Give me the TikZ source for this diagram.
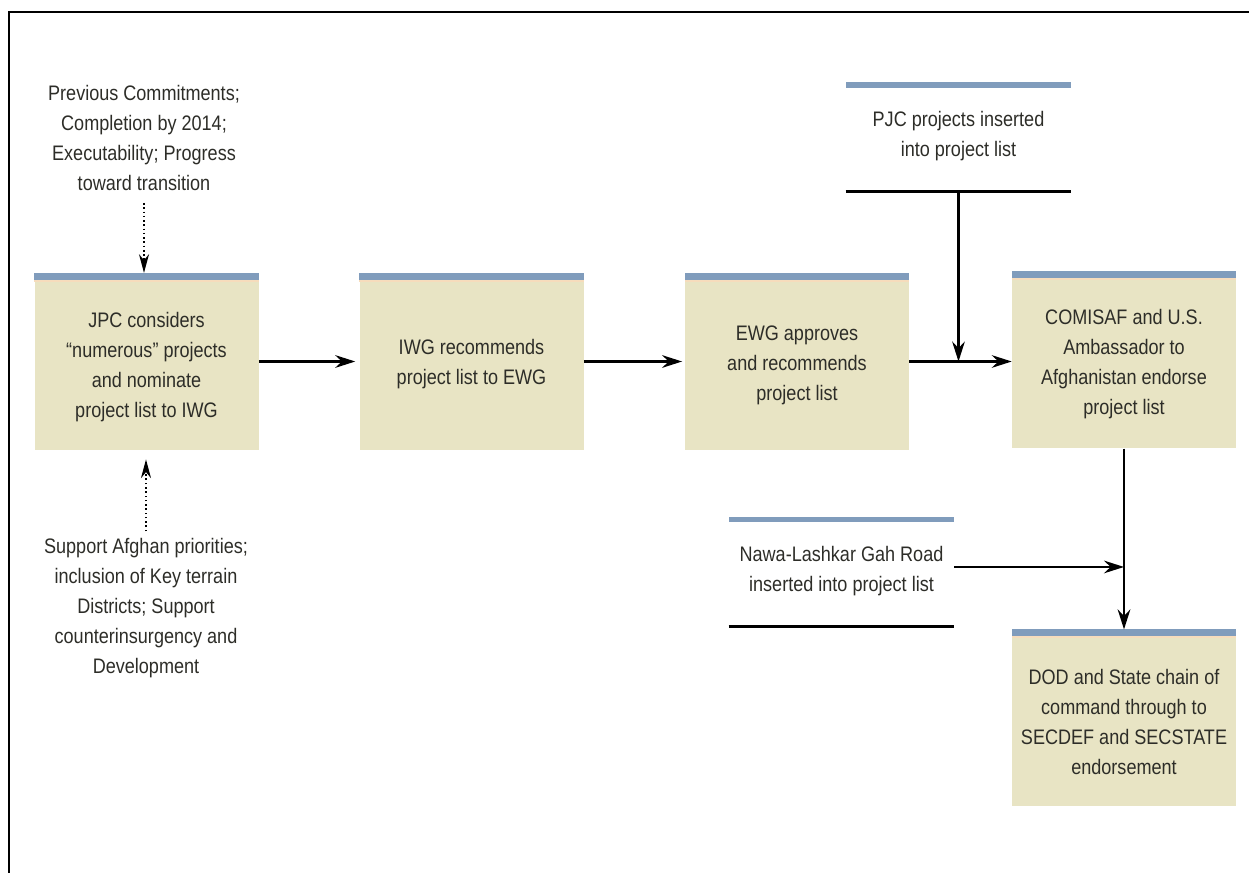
\documentclass[tikz,border=0pt]{standalone}
\usepackage{fontspec}
\setmainfont{Liberation Sans}[FakeStretch=0.86]
\usetikzlibrary{arrows.meta}
\definecolor{boxfill}{RGB}{232,228,196}
\definecolor{barblue}{RGB}{128,156,188}
\definecolor{peach}{RGB}{246,220,188}
\definecolor{txt}{RGB}{45,45,40}
\newcommand\stagebar[1]{%
  \fill[barblue] (#1.north west) rectangle ([yshift=-5pt]#1.north east);
  \fill[peach] ([yshift=-5pt]#1.north west) rectangle ([yshift=-6.5pt]#1.north east);}
\begin{document}
\begin{tikzpicture}[x=0.75pt,y=-0.75pt,
  every node/.style={font=\fontsize{15.75}{22.5}\selectfont, text=txt, align=center, inner sep=0pt},
  stagebox/.style={fill=boxfill, minimum width=168pt, minimum height=132.5pt},
  insertbox/.style={minimum width=168.75pt, minimum height=81.75pt},
  arr/.style={line width=1.9pt, -{Stealth[length=15pt,width=9.5pt,inset=5pt]}},
  dotarr/.style={line width=1.2pt, dash pattern=on 1.2pt off 2pt, -{Stealth[length=14pt,width=7.5pt,inset=4.5pt]}},
  frameline/.style={line width=1.8pt, black}
]
\useasboundingbox (0,0) rectangle (1249,873);
% frame
\draw[frameline] (9,873) -- (9,12) -- (1249,12);

% stage boxes
\node[stagebox] (jpc) at (146.5,361.5) {};
\node[stagebox] (iwg) at (471.5,361.5) {};
\node[stagebox] (ewg) at (797,361.5) {};
\node[stagebox] (com) at (1124,360) {};
\node[stagebox] (dod) at (1124,718) {};
\stagebar{jpc}\stagebar{iwg}\stagebar{ewg}\stagebar{com}\stagebar{dod}

\node (jpct) at ([yshift=-4.5pt]jpc.center) {JPC considers\\“numerous” projects\\and nominate\\project list to IWG};
\node (iwgt) at ([yshift=-2pt]iwg.center) {IWG recommends\\project list to EWG};
\node (ewgt) at ([yshift=-3pt]ewg.center) {EWG approves\\and recommends\\project list};
\node (comt) at ([yshift=-3pt]com.center) {COMISAF and U.S.\\Ambassador to\\Afghanistan endorse\\project list};
\node (dodt) at ([yshift=-3pt]dod.center) {DOD and State chain of\\command through to\\SECDEF and SECSTATE\\endorsement};

% inserted items
\node[insertbox] (pjc) at (958.5,136.5) {PJC projects inserted\\into project list};
\fill[barblue] (pjc.north west) rectangle ([yshift=-4.5pt]pjc.north east);
\draw[line width=2pt] (pjc.south west) -- (pjc.south east);

\node[insertbox] (nawa) at (841.5,571.5) {Nawa-Lashkar Gah Road\\inserted into project list};
\fill[barblue] (nawa.north west) rectangle ([yshift=-4pt]nawa.north east);
\draw[line width=2pt] (nawa.south west) -- (nawa.south east);

% criteria texts
\node (crit1) at (144,138) {Previous Commitments;\\Completion by 2014;\\Executability; Progress\\toward transition};
\node (crit2) at (146,608) {Support Afghan priorities;\\inclusion of Key terrain\\Districts; Support\\counterinsurgency and\\Development};

% connectors
\draw[dotarr, shorten <=9pt] (crit1.south) -- (crit1.south |- jpc.north);
\draw[dotarr, shorten <=5pt, shorten >=7pt] (crit2.north) -- (crit2.north |- jpc.south);

\draw[arr, shorten >=3pt] (jpc.east) -- (iwg.west);
\draw[arr, shorten >=2pt] (iwg.east) -- (ewg.west);
\draw[arr] (ewg.east) -- (ewg.east -| com.west);
\coordinate (join1) at (pjc.south |- ewg.east);
\draw[arr] (pjc.south) -- (join1);
\draw[arr] (com.south) -- (dod.north);
\coordinate (join2) at ([yshift=3.4pt]com.south |- nawa.east);
\draw[arr] ([yshift=3.4pt]nawa.east) -- (join2);
\end{tikzpicture}
\end{document}
